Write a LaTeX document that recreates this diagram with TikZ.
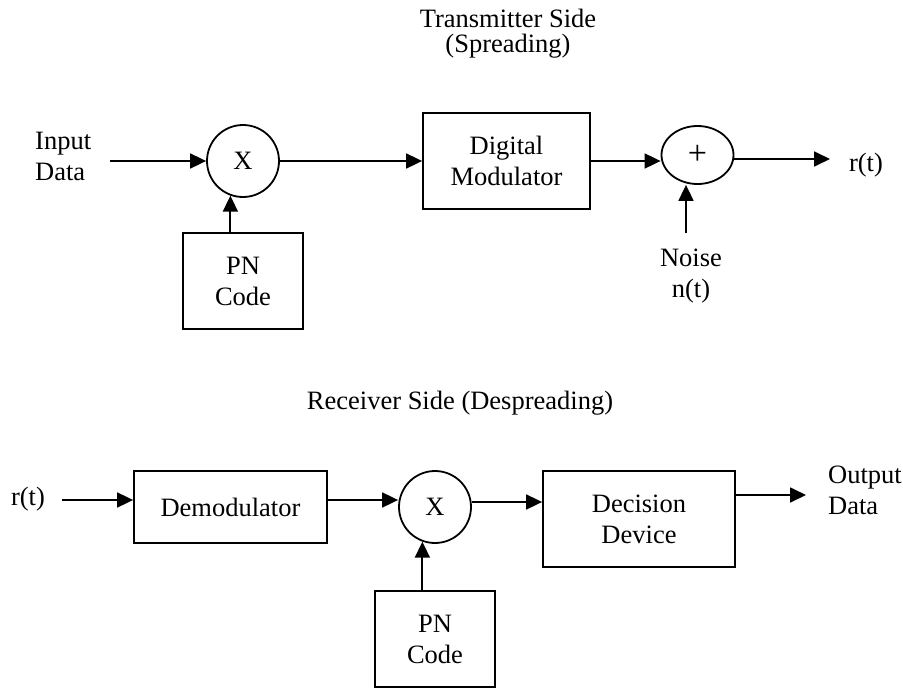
\documentclass[tikz,border=0pt]{standalone}
\usepackage{fontspec}
\setmainfont{Liberation Serif}
\usetikzlibrary{arrows.meta,shapes.geometric}
\tikzset{
  blk/.style={draw, line width=1.8pt, inner sep=0pt, align=center},
  mixer/.style={draw, circle, line width=1.8pt, inner sep=0pt, minimum size=72pt},
  sig/.style={-{Triangle[length=16pt,width=15pt]}, line width=1.8pt},
  lbl/.style={inner sep=0pt, align=center},
}

\begin{document}
\begin{tikzpicture}[x=1pt, y=-1pt, font=\fontsize{26.5}{31}\selectfont]
\useasboundingbox (0,0) rectangle (903,688);

% transmitter side
\node [lbl] (txtitle) at (508,34) {Transmitter Side\\[-6pt](Spreading)};
\node [lbl, align=left, anchor=west] (lblin) at (35,156) {Input\\Data};
\coordinate (in) at (110,161);

\node [mixer] (mix1) at (243,161) {X};
\node [blk, minimum width=120pt, minimum height=96pt] (pn1)  at (243,281) {PN\\Code};
\node [blk, minimum width=167pt, minimum height=96pt] (mod)  at (506.5,161) {Digital\\Modulator};
\node [draw, ellipse, line width=1.8pt, inner sep=0pt,
       minimum width=72pt, minimum height=58pt] (add) at (697.5,155) {\fontsize{34}{34}\selectfont +};
\node [lbl] (lblrt1) at (866,165) {r(t)};
\coordinate (rt1) at (830,159);
\node [lbl] (noise) at (691,276) {Noise\\n(t)};
\coordinate (nz) at (686,233);

\draw [sig] (in) -- (mix1.west);
\draw [sig] (mix1.250.5 |- pn1.north) -- (mix1.250.5);
\draw [sig] (mix1.east) -- (mix1.east -| mod.west);
\draw [sig] (mod.east) -- (mod.east -| add.west);
\draw [sig] (nz) -- (nz |- add.south);
\draw [sig] (add.east |- rt1) -- (rt1);

% receiver side
\node [lbl] (rxtitle) at (460,403) {Receiver Side (Despreading)};
\node [lbl] (lblrt2) at (28,499) {r(t)};
\coordinate (rt2) at (62,500);

\node [blk, minimum width=193pt, minimum height=72pt] (demod) at (230.5,507) {Demodulator};
\node [mixer] (mix2) at (435,507) {X};
\node [blk, minimum width=120pt, minimum height=96pt] (pn2)   at (435,639) {PN\\Code};
\node [blk, minimum width=192pt, minimum height=96pt] (dec)   at (639,519) {Decision\\Device};
\node [lbl, align=left, anchor=west] (lblout) at (828,490) {Output\\Data};
\coordinate (out) at (806,495);

\draw [sig] (rt2) -- (rt2 -| demod.west);
\draw [sig] ([yshift=7pt]demod.east) -- ([yshift=7pt]demod.east -| mix2.west);
\draw [sig] (mix2.250.5 |- pn2.north) -- (mix2.250.5);
\draw [sig] ([yshift=5pt]mix2.east) -- ([yshift=5pt]mix2.east -| dec.west);
\draw [sig] (dec.east |- out) -- (out);
\end{tikzpicture}
\end{document}
